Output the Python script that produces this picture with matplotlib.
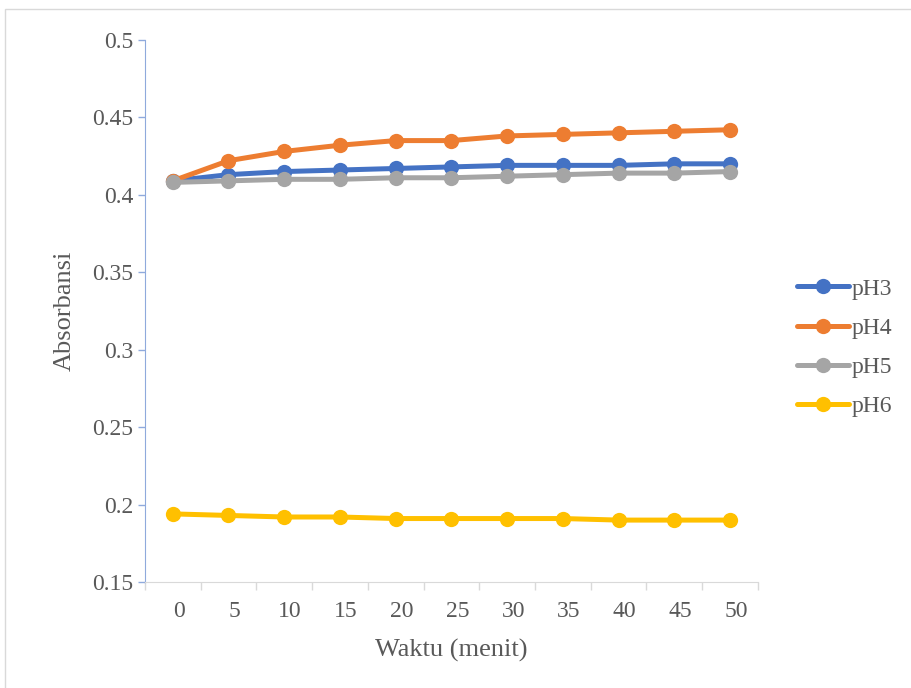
#!/usr/bin/env python3
"""Absorbance over time for four pH levels."""
import matplotlib
matplotlib.use("Agg")
import matplotlib.pyplot as plt
import matplotlib.patches as mpatches
import matplotlib.transforms as mtransforms

matplotlib.rcParams["font.family"] = ["Liberation Serif", "DejaVu Serif"]

# ── data ──────────────────────────────────────────────────────────────────────
waktu = [0, 5, 10, 15, 20, 25, 30, 35, 40, 45, 50]
ph3 = [0.409, 0.413, 0.415, 0.416, 0.417, 0.418, 0.419, 0.419, 0.419, 0.420, 0.420]
ph4 = [0.409, 0.422, 0.428, 0.432, 0.435, 0.435, 0.438, 0.439, 0.440, 0.441, 0.442]
ph5 = [0.408, 0.409, 0.410, 0.410, 0.411, 0.411, 0.412, 0.413, 0.414, 0.414, 0.415]
ph6 = [0.194, 0.193, 0.192, 0.192, 0.191, 0.191, 0.191, 0.191, 0.190, 0.190, 0.190]
series = [("pH3", ph3, "#4472C4"), ("pH4", ph4, "#ED7D31"),
          ("pH5", ph5, "#A5A5A5"), ("pH6", ph6, "#FFC000")]
yticks = [0.15, 0.2, 0.25, 0.3, 0.35, 0.4, 0.45, 0.5]

TXT = "#595959"

fig = plt.figure(figsize=(9.11, 6.88), dpi=100)
ax = fig.add_axes([0.159, 0.154, 0.673, 0.788])

# chart border
fig.patches.append(mpatches.Rectangle((0.006, -0.01), 1.0, 0.997, transform=fig.transFigure,
                                      fill=False, edgecolor="#D9D9D9", linewidth=1.0))

idx = list(range(len(waktu)))
for name, vals, col in series:
    ax.plot(idx, vals, color=col, linewidth=3.6, marker="o", markersize=11,
            markeredgewidth=0, label=name, solid_capstyle="round")

ax.set_xlim(-0.5, len(waktu) - 0.5)
ax.set_ylim(0.15, 0.5)
ax.set_yticks(yticks)
ax.set_yticklabels([f"{v:g}" for v in yticks])
ax.set_xticks(idx)
ax.set_xticklabels([str(w) for w in waktu])
ax.set_xticks([i - 0.5 for i in range(len(waktu) + 1)], minor=True)

ax.tick_params(axis="x", which="major", length=0, pad=14, labelsize=17, labelcolor=TXT)
ax.tick_params(axis="x", which="minor", length=6, color="#D9D9D9", width=1)
ax.tick_params(axis="y", which="major", length=5, color="#8FAADC", width=1,
               pad=3.5, labelsize=17, labelcolor=TXT)

# shift category labels slightly right
offset = mtransforms.ScaledTranslation(6 / 100, 0, fig.dpi_scale_trans)
for lab in ax.get_xticklabels():
    lab.set_transform(lab.get_transform() + offset)

for s in ("top", "right"):
    ax.spines[s].set_visible(False)
ax.spines["left"].set_color("#8FAADC")
ax.spines["bottom"].set_color("#D9D9D9")

ax.set_xlabel("Waktu (menit)", fontsize=19, color=TXT, labelpad=12)
ax.set_ylabel("Absorbansi", fontsize=19, color=TXT, labelpad=12)

leg = ax.legend(loc="center left", bbox_to_anchor=(1.049, 0.432), frameon=False,
                fontsize=17, handlelength=2.2, handletextpad=0.1,
                labelspacing=0.75, borderaxespad=0)
for t in leg.get_texts():
    t.set_color(TXT)

fig.savefig("out.png", dpi=100)
